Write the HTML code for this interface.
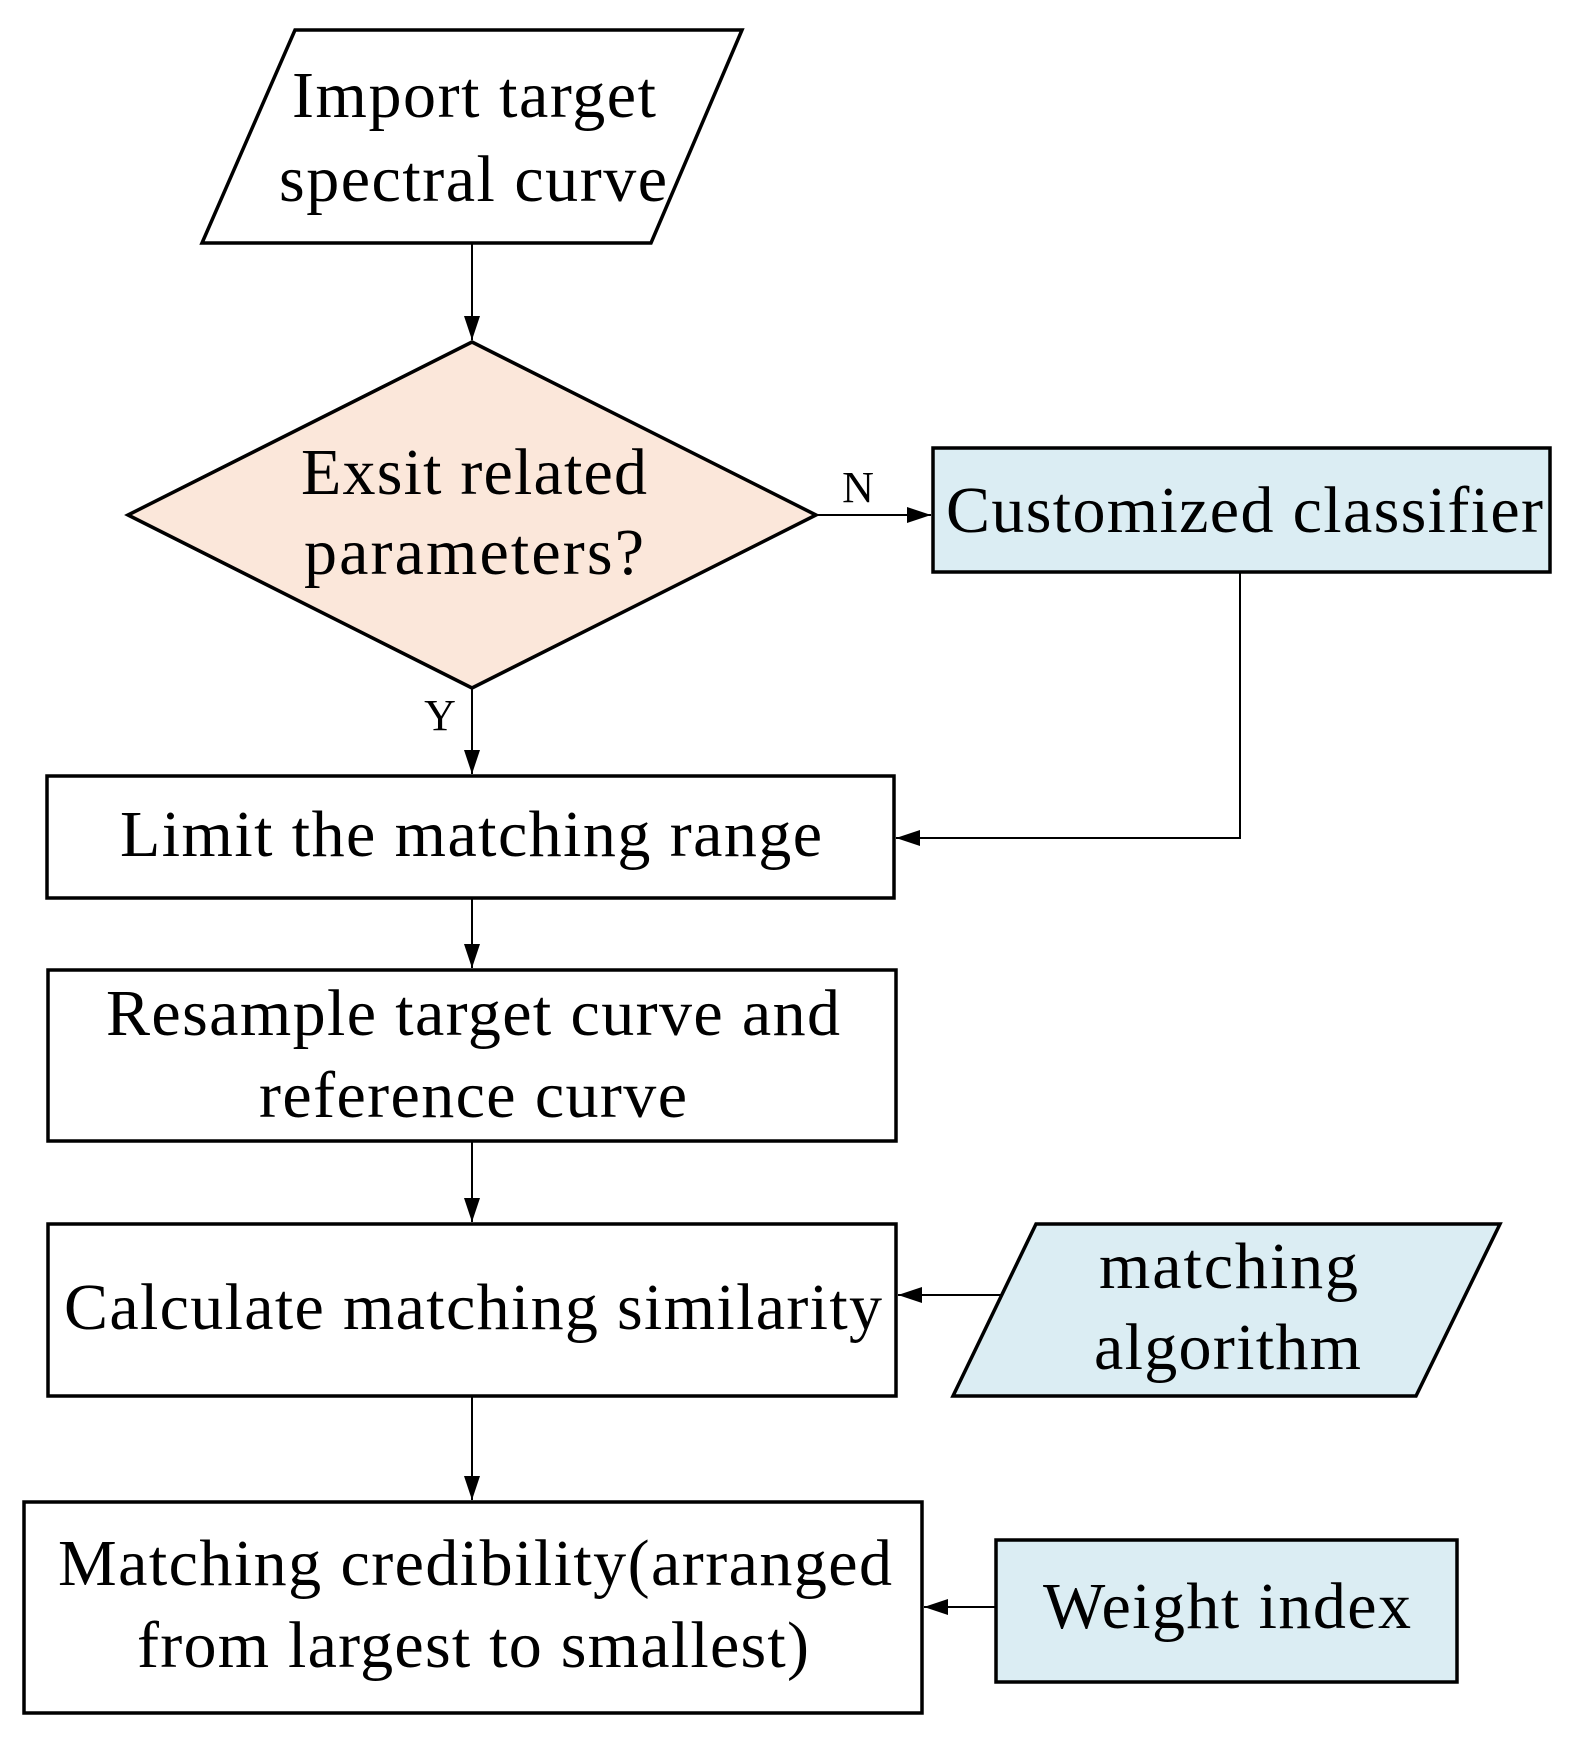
<!DOCTYPE html>
<html><head><meta charset="utf-8"><style>html,body{margin:0;padding:0;background:#fff}</style></head>
<body>
<svg width="1572" height="1746" viewBox="0 0 1572 1746" xmlns="http://www.w3.org/2000/svg" font-family="'Liberation Serif', serif" font-size="66" fill="#000">
<defs><marker id="b" markerWidth="24" markerHeight="20" refX="24" refY="8" orient="auto" markerUnits="userSpaceOnUse"><path d="M0,0 L24,8 L0,16 z" fill="#000"/></marker></defs>
<g stroke="#000" stroke-width="3.5">
<polygon points="295,30 742,30 651,243 202,243" fill="#fff"/>
<polygon points="472,342 816,515 472,688 128,515" fill="#fbe7da"/>
<rect x="933" y="448" width="617" height="124" fill="#dbedf3"/>
<rect x="47" y="776" width="847" height="122" fill="#fff"/>
<rect x="48" y="970" width="848" height="171" fill="#fff"/>
<rect x="48" y="1224" width="848" height="172" fill="#fff"/>
<polygon points="1036,1224 1500,1224 1416,1396 953,1396" fill="#dbedf3"/>
<rect x="24" y="1502" width="898" height="211" fill="#fff"/>
<rect x="996" y="1540" width="461" height="142" fill="#dbedf3"/>
</g>
<g stroke="#000" stroke-width="2" fill="none" marker-end="url(#b)">
<line x1="472" y1="243" x2="472" y2="340"/>
<line x1="816" y1="515" x2="931" y2="515"/>
<line x1="472" y1="688" x2="472" y2="774"/>
<polyline points="1240,572 1240,838 896,838"/>
<line x1="472" y1="898" x2="472" y2="968"/>
<line x1="472" y1="1141" x2="472" y2="1222"/>
<line x1="1002" y1="1295" x2="898" y2="1295"/>
<line x1="472" y1="1396" x2="472" y2="1500"/>
<line x1="996" y1="1607" x2="924" y2="1607"/>
</g>
<g text-anchor="start" lengthAdjust="spacingAndGlyphs">
<text x="292" y="117" textLength="364">Import target</text>
<text x="279" y="201" textLength="388">spectral curve</text>
<text x="301" y="494" textLength="346">Exsit related</text>
<text x="304" y="574" textLength="340">parameters?</text>
<text x="946" y="532" textLength="597">Customized classifier</text>
<text x="120" y="856" textLength="702">Limit the matching range</text>
<text x="106" y="1035" textLength="734">Resample target curve and</text>
<text x="259" y="1117" textLength="428">reference curve</text>
<text x="64" y="1329" textLength="818">Calculate matching similarity</text>
<text x="1099" y="1288" textLength="259">matching</text>
<text x="1094" y="1369" textLength="267">algorithm</text>
<text x="58" y="1585" textLength="834">Matching credibility(arranged</text>
<text x="137" y="1667" textLength="672">from largest to smallest)</text>
<text x="1043" y="1628" textLength="368">Weight index</text>
</g>
<text x="858" y="502" font-size="44" text-anchor="middle">N</text>
<text x="440" y="730" font-size="44" text-anchor="middle">Y</text>
</svg>
</body></html>
